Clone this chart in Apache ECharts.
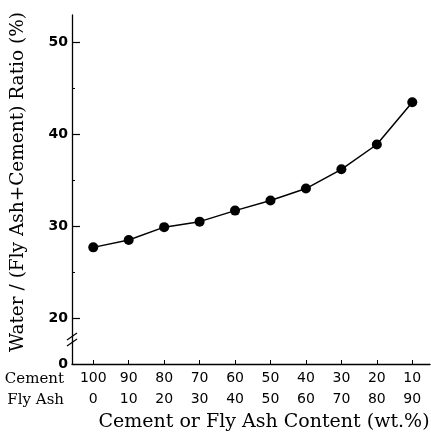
<!DOCTYPE html>
<html>
<head>
<meta charset="utf-8">
<script src="https://cdn.jsdelivr.net/npm/echarts@6/dist/echarts.min.js"></script>
<style>
  html, body { margin: 0; background: #fff; }
  #chart { width: 431px; height: 434px; }
</style>
</head>
<body>
<div id="chart"></div>
<script>
// data
const flyAsh = [0, 10, 20, 30, 40, 50, 60, 70, 80, 90]
const cement = [100, 90, 80, 70, 60, 50, 40, 30, 20, 10]
const ratio = [27.7, 28.5, 29.9, 30.5, 31.7, 32.8, 34.1, 36.2, 38.9, 43.5]
const yMajor = [20, 30, 40, 50]
const yMinor = [25, 35, 45]
const yBottom = 15 // shown as "0" below the axis break

const serif = 'DejaVu Serif'
const sans = 'DejaVu Sans'

const chart = echarts.init(document.getElementById('chart'))

const option = {
  animation: false,
  backgroundColor: '#fff',
  grid: { left: 72, right: 1, top: 15, bottom: 70 },
  xAxis: {
    type: 'value',
    min: -6,
    max: 95,
    splitLine: { show: false },
    axisLine: { onZero: false, lineStyle: { color: '#000', width: 1.3 } },
    axisTick: {
      customValues: flyAsh,
      inside: true,
      length: 4,
      lineStyle: { color: '#000', width: 1 },
    },
    axisLabel: {
      customValues: flyAsh,
      margin: 4,
      color: '#000',
      fontFamily: sans,
      fontSize: 14,
      lineHeight: 21,
      formatter: function (v) {
        return cement[flyAsh.indexOf(v)] + '\n' + v
      },
    },
  },
  yAxis: [
    {
      type: 'value',
      min: yBottom,
      max: 53,
      splitLine: { show: false },
      axisLine: { show: true, onZero: false, lineStyle: { color: '#000', width: 1.3 } },
      axisTick: {
        customValues: yMajor,
        inside: true,
        length: 8,
        lineStyle: { color: '#000', width: 1.2 },
      },
      axisLabel: {
        customValues: [yBottom].concat(yMajor),
        margin: 4,
        color: '#000',
        fontFamily: sans,
        fontWeight: 'bold',
        fontSize: 14,
        formatter: function (v) {
          return v === yBottom ? '0' : String(v)
        },
      },
    },
    {
      // minor ticks
      type: 'value',
      min: yBottom,
      max: 53,
      position: 'left',
      splitLine: { show: false },
      axisLine: { show: false, onZero: false },
      axisTick: {
        customValues: yMinor,
        inside: true,
        length: 3,
        lineStyle: { color: '#000', width: 1 },
      },
      axisLabel: { show: false },
    },
  ],
  series: [
    {
      type: 'line',
      data: flyAsh.map((x, i) => [x, ratio[i]]),
      symbol: 'circle',
      symbolSize: 10,
      itemStyle: { color: '#000' },
      lineStyle: { color: '#000', width: 1.5 },
    },
  ],
}
chart.setOption(option)

// axis break mark, and texts
const ax = chart.convertToPixel({ xAxisIndex: 0 }, -6)
const by = chart.convertToPixel({ yAxisIndex: 0 }, 17.5)

chart.setOption({
  graphic: [
    {
      type: 'rect',
      shape: { x: ax - 3, y: by - 6, width: 6, height: 6 },
      style: { fill: '#fff' },
    },
    {
      type: 'line',
      shape: { x1: ax - 5, y1: by - 1, x2: ax + 5, y2: by - 8 },
      style: { stroke: '#000', lineWidth: 1.2 },
    },
    {
      type: 'line',
      shape: { x1: ax - 5, y1: by + 5, x2: ax + 5, y2: by - 2 },
      style: { stroke: '#000', lineWidth: 1.2 },
    },
    {
      type: 'text',
      x: 18,
      y: 182,
      rotation: Math.PI / 2,
      style: {
        text: 'Water / (Fly Ash+Cement) Ratio (%)',
        font: '18.5px "' + serif + '"',
        fill: '#000',
        align: 'center',
        verticalAlign: 'middle',
      },
    },
    {
      type: 'text',
      x: 64,
      y: 379,
      style: {
        text: 'Cement',
        font: '15px "' + serif + '"',
        fill: '#000',
        align: 'right',
        verticalAlign: 'middle',
      },
    },
    {
      type: 'text',
      x: 64,
      y: 400,
      style: {
        text: 'Fly Ash',
        font: '15px "' + serif + '"',
        fill: '#000',
        align: 'right',
        verticalAlign: 'middle',
      },
    },
    {
      type: 'text',
      x: 264,
      y: 422,
      style: {
        text: 'Cement or Fly Ash Content (wt.%)',
        font: '19px "' + serif + '"',
        fill: '#000',
        align: 'center',
        verticalAlign: 'middle',
      },
    },
  ],
})
</script>
</body>
</html>
